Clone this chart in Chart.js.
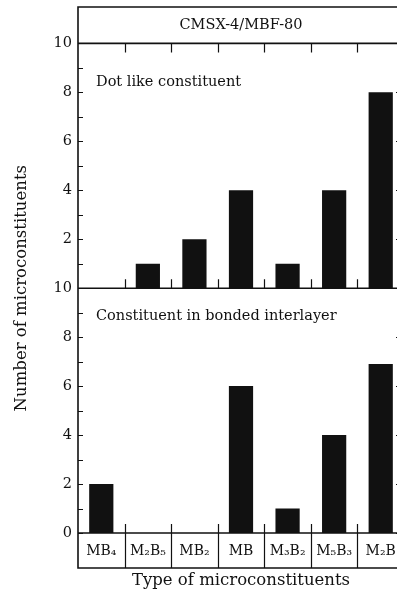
<!DOCTYPE html>
<html>
<head>
<meta charset="utf-8">
<script src="https://cdn.jsdelivr.net/npm/chart.js@4.4.1/dist/chart.umd.min.js"></script>
<style>
  html, body { margin: 0; padding: 0; background: #fff; overflow: hidden; }
  canvas { display: block; }
</style>
</head>
<body>
<canvas id="chart" width="410" height="596"></canvas>
<script>
const categories = ['MB₄', 'M₂B₅', 'MB₂', 'MB', 'M₃B₂', 'M₅B₃', 'M₂B'];
const dotLikeCounts = [0, 1, 2, 4, 1, 4, 8];
const interlayerCounts = [2, 0, 0, 6, 1, 4, 6.9];
const topTickLabels = [2, 4, 6, 8, 10];
const bottomTickLabels = [0, 2, 4, 6, 8, 10];

const serif = "'DejaVu Serif', 'Liberation Serif', serif";
const ink = '#111';

// box frame, inward ticks, panel notes and the y title
const framePlugin = {
  id: 'frame',
  afterDraw(chart) {
    const { ctx, chartArea: a, scales } = chart;
    const x = scales.x, yt = scales.yTop, yb = scales.yBottom;
    const boxBottom = a.bottom + 35;

    ctx.save();
    ctx.strokeStyle = ink;
    ctx.lineWidth = 1.6;
    ctx.beginPath();
    ctx.moveTo(a.right, 7);
    ctx.lineTo(a.left, 7);
    ctx.lineTo(a.left, boxBottom);
    ctx.lineTo(a.right, boxBottom);
    ctx.lineTo(a.right, 7);
    [a.top, yt.bottom, a.bottom].forEach(y => {
      ctx.moveTo(a.left, y);
      ctx.lineTo(a.right, y);
    });
    ctx.stroke();

    ctx.lineWidth = 1.2;
    ctx.beginPath();
    for (let i = 1; i < categories.length; i++) {
      const px = Math.round(x.getPixelForValue(i - 0.5)) + 0.5;
      ctx.moveTo(px, a.top);
      ctx.lineTo(px, a.top + 9);
      ctx.moveTo(px, yt.bottom - 9);
      ctx.lineTo(px, yt.bottom);
      ctx.moveTo(px, a.bottom - 9);
      ctx.lineTo(px, boxBottom);
    }
    [yt, yb].forEach(s => {
      s.ticks.forEach(t => {
        const py = Math.round(s.getPixelForValue(t.value)) + 0.5;
        ctx.moveTo(a.left, py);
        ctx.lineTo(a.left + 5, py);
        if (t.value % 2 === 0) {
          ctx.moveTo(a.right, py);
          ctx.lineTo(a.right - 8, py);
        }
      });
    });
    ctx.stroke();

    ctx.fillStyle = ink;
    ctx.font = '14.5px ' + serif;
    ctx.textAlign = 'left';
    ctx.textBaseline = 'middle';
    ctx.fillText('Dot like constituent', a.left + 18, yt.getPixelForValue(8.4));
    ctx.fillText('Constituent in bonded interlayer', a.left + 18, yb.getPixelForValue(8.85));

    ctx.font = '16.5px ' + serif;
    ctx.textAlign = 'center';
    ctx.translate(22, (a.top + a.bottom) / 2);
    ctx.rotate(-Math.PI / 2);
    ctx.fillText('Number of microconstituents', 0, 0);
    ctx.restore();
  }
};

const tickFont = { family: serif, size: 14.5 };

new Chart(document.getElementById('chart'), {
  type: 'bar',
  data: {
    labels: categories,
    datasets: [
      {
        label: 'Dot like constituent',
        data: dotLikeCounts,
        yAxisID: 'yTop',
        backgroundColor: ink,
        grouped: false,
        barPercentage: 0.52,
        categoryPercentage: 1
      },
      {
        label: 'Constituent in bonded interlayer',
        data: interlayerCounts,
        yAxisID: 'yBottom',
        backgroundColor: ink,
        grouped: false,
        barPercentage: 0.52,
        categoryPercentage: 1
      }
    ]
  },
  options: {
    responsive: false,
    animation: false,
    layout: { padding: { right: 6 } },
    plugins: {
      legend: { display: false },
      tooltip: { enabled: false },
      title: {
        display: true,
        fullSize: false,
        text: 'CMSX-4/MBF-80',
        color: ink,
        font: { family: serif, size: 14.5, weight: 'normal' },
        padding: { top: 17, bottom: 9 }
      }
    },
    scales: {
      x: {
        grid: { display: false, drawTicks: false },
        border: { display: false },
        ticks: { color: ink, font: { family: serif, size: 14 }, padding: 10, maxRotation: 0, autoSkip: false },
        title: {
          display: true,
          text: 'Type of microconstituents',
          color: ink,
          font: { family: serif, size: 16.5 },
          padding: { top: 0, bottom: 5 }
        },
        afterFit: s => { s.height = 63; }
      },
      yTop: {
        position: 'left',
        stack: 'counts',
        stackWeight: 1,
        weight: 1,
        min: 0,
        max: 10,
        grid: { display: false, drawTicks: false },
        border: { display: false },
        ticks: {
          stepSize: 1,
          autoSkip: false,
          padding: 6,
          color: ink,
          font: tickFont,
          callback: v => topTickLabels.includes(v) ? String(v) : ''
        },
        afterFit: s => { s.width = 78; }
      },
      yBottom: {
        position: 'left',
        stack: 'counts',
        stackWeight: 1,
        weight: 0,
        min: 0,
        max: 10,
        grid: { display: false, drawTicks: false },
        border: { display: false },
        ticks: {
          stepSize: 1,
          autoSkip: false,
          padding: 6,
          color: ink,
          font: tickFont,
          callback: v => bottomTickLabels.includes(v) ? String(v) : ''
        },
        afterFit: s => { s.width = 78; }
      }
    }
  },
  plugins: [framePlugin]
});
</script>
</body>
</html>
